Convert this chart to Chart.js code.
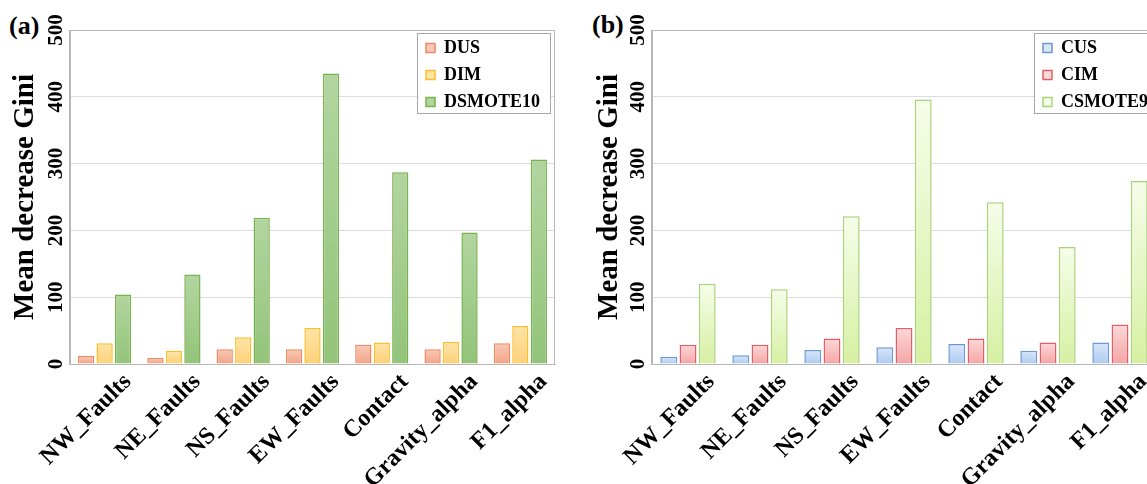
<!DOCTYPE html>
<html>
<head>
<meta charset="utf-8">
<script src="https://cdn.jsdelivr.net/npm/chart.js@4.4.1/dist/chart.umd.min.js"></script>
<style>
  html, body { margin: 0; padding: 0; background: #fff; overflow: hidden; }
  body { width: 1147px; height: 484px; position: relative; }
  canvas { position: absolute; top: 0; }
  #chartA { left: 0; }
  #chartB { left: 580px; }
  .tag { position: absolute; font: bold 26px "Liberation Serif", "Times New Roman", serif; color: #000; }
</style>
</head>
<body>
<div class="tag" style="left:9px;top:11px">(a)</div>
<div class="tag" style="left:592px;top:10px">(b)</div>
<canvas id="chartA" width="580" height="484"></canvas>
<canvas id="chartB" width="590" height="484"></canvas>
<script>
// Feature names on the x axis (same for both panels)
const features = ['NW_Faults', 'NE_Faults', 'NS_Faults', 'EW_Faults', 'Contact', 'Gravity_alpha', 'F1_alpha'];

// Panel (a)
const dusValues = [12, 9, 22, 22, 29, 22, 31];
const dimValues = [31, 20, 40, 54, 32, 33, 57];
const dsmoteValues = [104, 134, 219, 435, 287, 197, 306];

// Panel (b)
const cusValues = [11, 13, 21, 25, 30, 20, 32];
const cimValues = [29, 29, 38, 54, 38, 32, 59];
const csmoteValues = [120, 112, 221, 396, 242, 175, 274];

const yTicks = [0, 100, 200, 300, 400, 500];

const serif = '"Liberation Serif", "Times New Roman", serif';

// vertical gradient per bar, computed from the y scale
function barFill(top, bottom) {
  return (ctx) => {
    const chart = ctx.chart;
    if (!chart.chartArea || ctx.raw == null) return bottom;
    const y = chart.scales.y;
    const g = chart.ctx.createLinearGradient(0, y.getPixelForValue(ctx.raw), 0, y.getPixelForValue(0));
    g.addColorStop(0, top);
    g.addColorStop(1, bottom);
    return g;
  };
}

// frame round the plot area, and a white framed box behind the legend
const framePlugin = {
  id: 'frame',
  afterLayout(chart, args, opts) {
    const lg = chart.legend;
    lg.left = opts.legendX;
    lg.top = 30;
    lg.right = lg.left + lg.width;
    lg.bottom = lg.top + lg.height;
  },
  afterDatasetsDraw(chart, args, opts) {
    const {ctx, chartArea: a, legend: lg} = chart;
    ctx.save();
    ctx.strokeStyle = '#b8b8b8';
    ctx.lineWidth = 1;
    ctx.strokeRect(Math.round(a.left) - 0.5, Math.round(a.top) + 0.5, Math.round(a.right - a.left), Math.round(a.bottom - a.top));
    ctx.fillStyle = '#fff';
    ctx.fillRect(lg.left, 33, lg.width, 80);
    ctx.strokeStyle = '#a8a8a8';
    ctx.strokeRect(Math.round(lg.left) + 0.5, 33.5, Math.round(lg.width), 80);
    ctx.restore();
    lg.draw();
  }
};

function makeChart(id, datasets, geom) {
  return new Chart(document.getElementById(id), {
    type: 'bar',
    data: { labels: features, datasets: datasets },
    plugins: [framePlugin],
    options: {
      responsive: false,
      animation: false,
      layout: { padding: { left: 0, top: 30, right: geom.padRight, bottom: 0 } },
      datasets: { bar: { categoryPercentage: 0.8, barPercentage: 0.88, borderWidth: 1.5 } },
      scales: {
        x: {
          grid: { display: false, drawTicks: false },
          border: { color: '#b8b8b8' },
          ticks: {
            autoSkip: false, minRotation: 45, maxRotation: 45, labelOffset: 23, padding: 4,
            color: '#000', font: { family: serif, size: 24, weight: 'bold' }
          },
          afterFit: (s) => { s.height = 120; }
        },
        y: {
          min: 0, max: 500,
          afterBuildTicks: (s) => { s.ticks = yTicks.map(v => ({ value: v })); },
          grid: { color: '#dcdcdc', drawTicks: false },
          border: { color: '#b8b8b8' },
          ticks: {
            minRotation: 90, maxRotation: 90, crossAlign: 'center', padding: -2,
            color: '#000', font: { family: serif, size: 21, weight: 'bold' }
          },
          title: {
            display: true, text: 'Mean decrease Gini', color: '#000',
            font: { family: serif, size: 29, weight: 'bold' },
            padding: { top: geom.titlePad, bottom: 0 }
          },
          afterFit: (s) => { s.width = geom.axisWidth; }
        }
      },
      plugins: {
        tooltip: { enabled: false },
        legend: {
          position: 'chartArea', fullSize: false, align: 'start', maxHeight: 110,
          labels: {
            boxWidth: 9, boxHeight: 9, padding: 9, color: '#000',
            font: { family: serif, size: 18, weight: 'bold' }
          }
        },
        frame: { legendX: geom.legendX }
      }
    }
  });
}

makeChart('chartA', [
  { label: 'DUS', data: dusValues, backgroundColor: barFill('#f8c9b6', '#f2a488'), borderColor: '#ec8a62' },
  { label: 'DIM', data: dimValues, backgroundColor: barFill('#fee4a8', '#fdd178'), borderColor: '#fcc02a' },
  { label: 'DSMOTE10', data: dsmoteValues, backgroundColor: barFill('#b2d59f', '#93c47a'), borderColor: '#76b24e' }
], { padRight: 25, axisWidth: 70, titlePad: 8, legendX: 417 });

makeChart('chartB', [
  { label: 'CUS', data: cusValues, backgroundColor: barFill('#d8e6f9', '#aecbf0'), borderColor: '#6a98d3' },
  { label: 'CIM', data: cimValues, backgroundColor: barFill('#fcd8d8', '#f4a5a6'), borderColor: '#da6268' },
  { label: 'CSMOTE9', data: csmoteValues, backgroundColor: barFill('#f6fde9', '#d6f0a2'), borderColor: '#a8d279' }
], { padRight: 14, axisWidth: 72, titlePad: 12, legendX: 454 });
</script>
</body>
</html>
